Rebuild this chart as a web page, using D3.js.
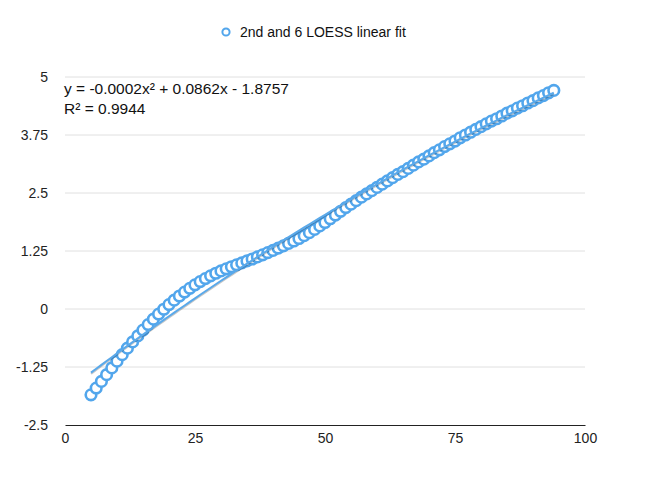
<!DOCTYPE html>
<html>
<head>
<meta charset="utf-8">
<script src="https://cdn.jsdelivr.net/npm/d3@7/dist/d3.min.js"></script>
<style>
  html, body { margin: 0; padding: 0; background: #fff; }
  svg { display: block; font-family: "Liberation Sans", Arial, Helvetica, sans-serif; }
</style>
</head>
<body>
<svg id="chart" width="650" height="489"></svg>
<script>
// ---- data ----
const xValues = [5,6,7,8,9,10,11,12,13,14,15,16,17,18,19,20,21,22,23,24,25,26,27,28,29,30,31,32,33,34,35,36,37,38,39,40,41,42,43,44,45,46,47,48,49,50,51,52,53,54,55,56,57,58,59,60,61,62,63,64,65,66,67,68,69,70,71,72,73,74,75,76,77,78,79,80,81,82,83,84,85,86,87,88,89,90,91,92,93,94];
const yValues = [-1.85,-1.705,-1.56,-1.415,-1.27,-1.125,-0.985,-0.845,-0.71,-0.58,-0.455,-0.335,-0.22,-0.11,-0.005,0.095,0.19,0.28,0.365,0.445,0.52,0.59,0.655,0.715,0.77,0.82,0.866,0.91,0.952,0.994,1.036,1.078,1.122,1.168,1.215,1.263,1.312,1.362,1.413,1.466,1.52,1.58,1.645,1.715,1.79,1.865,1.945,2.025,2.105,2.185,2.26,2.335,2.41,2.48,2.55,2.62,2.69,2.76,2.83,2.90,2.96,3.03,3.10,3.17,3.23,3.30,3.37,3.43,3.50,3.56,3.62,3.69,3.75,3.81,3.87,3.93,3.99,4.05,4.10,4.16,4.22,4.27,4.33,4.38,4.44,4.49,4.55,4.60,4.66,4.71];
const xTicks = [0, 25, 50, 75, 100];
const yTicks = [-2.5, -1.25, 0, 1.25, 2.5, 3.75, 5];
const seriesName = "2nd and 6 LOESS linear fit";
const equationText = "y = -0.0002x² + 0.0862x - 1.8757";
const r2Text = "R² = 0.9944";

// ---- layout ----
const svg = d3.select("#chart");
const mLeft = 65, mRight = 585, mTop = 77, mBottom = 425;
const blue = "#52a6ec";
const font = "Liberation Sans, Arial, sans-serif";

const x = d3.scaleLinear().domain([0, 100]).range([mLeft, mRight]);
const y = d3.scaleLinear().domain([-2.5, 5]).range([mBottom, mTop]);

// gridlines
svg.append("g").selectAll("line")
  .data(yTicks.filter(d => d !== -2.5))
  .join("line")
  .attr("x1", mLeft).attr("x2", mRight)
  .attr("y1", d => y(d)).attr("y2", d => y(d))
  .attr("stroke", "#e0e0e0").attr("stroke-width", 1);

// y axis labels
const yAxis = d3.axisLeft(y).tickValues(yTicks).tickSize(0).tickPadding(17)
  .tickFormat(d => String(d));
const gy = svg.append("g").attr("transform", `translate(${mLeft},0)`).call(yAxis);
gy.select(".domain").remove();
gy.selectAll("text").attr("font-size", 14).attr("fill", "#222").attr("font-family", font);

// x axis
const xAxis = d3.axisBottom(x).tickValues(xTicks).tickSize(0).tickPadding(8)
  .tickFormat(d => String(d));
const gx = svg.append("g").attr("transform", `translate(0,${mBottom})`).call(xAxis);
gx.select(".domain").attr("stroke", "#222").attr("stroke-width", 1.2);
gx.selectAll("text").attr("font-size", 14).attr("fill", "#222").attr("font-family", font);

// points
const pts = xValues.map((v, i) => ({x: v, y: yValues[i]}));
svg.append("g").selectAll("circle")
  .data(pts)
  .join("circle")
  .attr("cx", d => x(d.x)).attr("cy", d => y(d.y))
  .attr("r", 5.3)
  .attr("fill", "#fff")
  .attr("stroke", blue)
  .attr("stroke-width", 2.6);

// quadratic least squares trendline computed from data
function quadFit(xs, ys) {
  let n = xs.length, s = [0,0,0,0,0], t = [0,0,0];
  for (let i = 0; i < n; i++) {
    const xi = xs[i], yi = ys[i];
    let p = 1;
    for (let k = 0; k < 5; k++) { s[k] += p; p *= xi; }
    t[0] += yi; t[1] += yi * xi; t[2] += yi * xi * xi;
  }
  const A = [[s[0], s[1], s[2], t[0]], [s[1], s[2], s[3], t[1]], [s[2], s[3], s[4], t[2]]];
  for (let i = 0; i < 3; i++) {
    for (let j = i + 1; j < 3; j++) {
      const f = A[j][i] / A[i][i];
      for (let k = i; k < 4; k++) A[j][k] -= f * A[i][k];
    }
  }
  const c = [0,0,0];
  for (let i = 2; i >= 0; i--) {
    let sum = A[i][3];
    for (let k = i + 1; k < 3; k++) sum -= A[i][k] * c[k];
    c[i] = sum / A[i][i];
  }
  return c;
}
const coef = quadFit(xValues, yValues);
const fitPts = xValues.map(v => ({x: v, y: coef[0] + coef[1] * v + coef[2] * v * v}));
const line = d3.line().x(d => x(d.x)).y(d => y(d.y)).curve(d3.curveMonotoneX);
svg.append("path").datum(fitPts).attr("d", line)
  .attr("fill", "none").attr("stroke", "rgba(0,0,0,0.22)").attr("stroke-width", 2)
  .attr("transform", "translate(0,1.2)");
svg.append("path").datum(fitPts).attr("d", line)
  .attr("fill", "none").attr("stroke", "#5aa9ea").attr("stroke-width", 2);

// equation text
svg.append("text").attr("x", 64).attr("y", 93.5).attr("font-size", 15.5).attr("fill", "#111")
  .attr("font-family", font).text(equationText);
svg.append("text").attr("x", 64).attr("y", 113.5).attr("font-size", 15.5).attr("fill", "#111")
  .attr("font-family", font).text(r2Text);

// legend
svg.append("circle").attr("cx", 226).attr("cy", 32).attr("r", 3.6)
  .attr("fill", "#fff").attr("stroke", blue).attr("stroke-width", 2);
svg.append("text").attr("x", 240).attr("y", 37).attr("font-size", 14).attr("fill", "#111")
  .attr("font-family", font).text(seriesName);
</script>
</body>
</html>
